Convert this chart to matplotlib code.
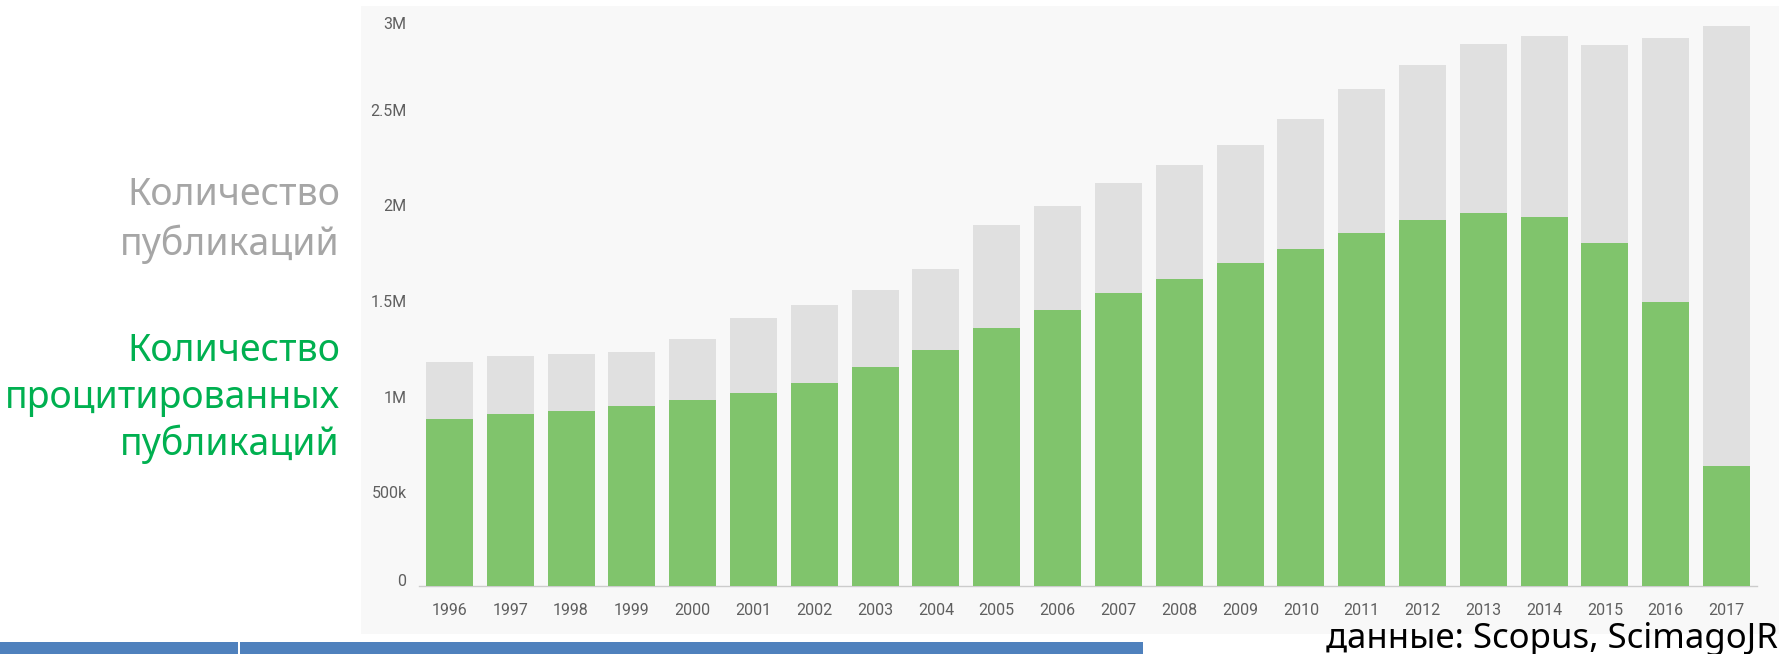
import matplotlib
matplotlib.use("Agg")
import matplotlib.pyplot as plt
from matplotlib.patches import Rectangle
from matplotlib.transforms import ScaledTranslation

years = [str(y) for y in range(1996, 2018)]
total_pubs = [1.171, 1.202, 1.213, 1.223, 1.291, 1.401, 1.469, 1.545, 1.658, 1.885,
              1.985, 2.105, 2.200, 2.307, 2.442, 2.595, 2.725, 2.832, 2.874, 2.828,
              2.865, 2.926]
cited_pubs = [0.873, 0.899, 0.915, 0.941, 0.972, 1.009, 1.061, 1.146, 1.236, 1.350,
              1.441, 1.532, 1.606, 1.689, 1.763, 1.846, 1.915, 1.952, 1.930, 1.794,
              1.486, 0.628]
ytick_vals = [0, 0.5, 1.0, 1.5, 2.0, 2.5, 3.0]
ytick_labels = ["0", "500k", "1M", "1.5M", "2M", "2.5M", "3M"]
label_total = ["Количество", "публикаций"]
label_cited = ["Количество", "процитированных", "публикаций"]
source_text = "данные: Scopus, ScimagoJR"

W, H = 1779, 654
fig = plt.figure(figsize=(W / 100, H / 100), dpi=100)
fig.patch.set_facecolor("white")

def fx(px):
    return px / W

def fy(py):
    return 1 - py / H

# chart panel background
fig.patches.append(Rectangle((fx(361), fy(634)), fx(W) - fx(361), fy(6) - fy(634),
                             transform=fig.transFigure, facecolor="#f8f8f8",
                             edgecolor="none", zorder=-5))
# bottom blue bars
fig.patches.append(Rectangle((0, 0), fx(238), fy(642), transform=fig.transFigure,
                             facecolor="#4f81bd", edgecolor="none", zorder=-5))
fig.patches.append(Rectangle((fx(240.5), 0), fx(1143) - fx(240.5), fy(642),
                             transform=fig.transFigure, facecolor="#4f81bd",
                             edgecolor="none", zorder=-5))

ax = fig.add_axes([fx(419), fy(586), fx(1757) - fx(419), fy(12) - fy(586)])
ax.set_zorder(2)
ax.set_facecolor("none")
x = list(range(len(years)))
ax.bar(x, total_pubs, width=0.772, color="#e0e0e0", zorder=2)
ax.bar(x, cited_pubs, width=0.772, color="#80c46c", zorder=3)
ax.set_xlim(-0.5, len(years) - 0.5)
ax.set_ylim(0, 3.0)

for s in ["top", "right", "left"]:
    ax.spines[s].set_visible(False)
ax.spines["bottom"].set_color("#cccccc")
ax.spines["bottom"].set_linewidth(1.0)

ax.set_xticks(x)
ax.set_xticklabels(years, fontfamily="Roboto", fontsize=11.5, color="#5f5f5f")
ax.set_yticks(ytick_vals)
ax.set_yticklabels(ytick_labels, fontfamily="Roboto", fontsize=11.5, color="#5f5f5f")
ax.tick_params(axis="x", length=0, pad=12)
ax.tick_params(axis="y", length=0, pad=9)

ylabels = ax.get_yticklabels()
for i, lab in enumerate(ylabels):
    if i == 0:
        dy = 6
    elif i == len(ylabels) - 1:
        dy = -11
    else:
        dy = -2
    lab.set_transform(lab.get_transform() + ScaledTranslation(0, dy / 100, fig.dpi_scale_trans))

# left side legend-like texts
for txt, base in zip(label_total, [205, 255]):
    fig.text(fx(340), fy(base), txt, ha="right", va="baseline", fontsize=27,
             family="Noto Sans", color="#a6a6a6")
for txt, base in zip(label_cited, [361, 408, 455]):
    fig.text(fx(340), fy(base), txt, ha="right", va="baseline", fontsize=27,
             family="Noto Sans", color="#00b050")

fig.text(fx(1778), fy(648), source_text, ha="right", va="baseline", fontsize=25,
         family="Noto Sans", color="black")

fig.savefig("out.png", dpi=100, facecolor="white")
